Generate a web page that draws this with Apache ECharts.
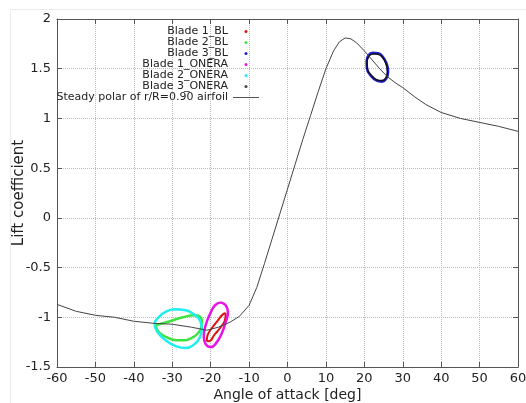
<!DOCTYPE html>
<html>
<head>
<meta charset="utf-8">
<script src="https://cdn.jsdelivr.net/npm/echarts@6/dist/echarts.min.js"></script>
<style>
html,body{margin:0;padding:0;background:#fff;}
#chart{width:526px;height:403px;}
</style>
</head>
<body>
<div id="chart"></div>
<script>
// Steady polar of r/R=0.90 airfoil
var polarAlpha = [-60,-55,-50,-45,-40,-35,-30,-25,-21,-18,-15,-12.5,-10,-8,-6,-4,-2,0,2,4,6,8,10,12,13.5,15,16.5,18,20,22,24,26,28,30,33,36,40,45,50,55,60];
var polarCl    = [-0.87,-0.94,-0.98,-1.00,-1.04,-1.06,-1.07,-1.10,-1.13,-1.10,-1.05,-0.99,-0.88,-0.70,-0.46,-0.21,0.04,0.29,0.54,0.79,1.03,1.27,1.50,1.68,1.77,1.81,1.80,1.76,1.68,1.59,1.50,1.42,1.36,1.31,1.22,1.14,1.06,1.00,0.96,0.92,0.87];

// Blade loops (angle of attack, lift coefficient)
var blade1BLAlpha = [-16.1,-16.3,-17.4,-18.9,-20.5,-21.0,-20.8,-19.7,-18.1,-16.8,-16.1];
var blade1BLCl    = [-0.96,-1.03,-1.10,-1.17,-1.24,-1.23,-1.18,-1.11,-1.03,-0.97,-0.96];

var blade2BLAlpha = [-34.3,-31.5,-27.2,-24.2,-22.9,-22.3,-22.4,-23.3,-24.6,-26.5,-28.9,-31.5,-33.5,-34.3];
var blade2BLCl    = [-1.08,-1.05,-1.00,-0.98,-0.99,-1.04,-1.10,-1.16,-1.20,-1.23,-1.23,-1.20,-1.15,-1.08];

var blade3BLAlpha = [22.2,23.6,24.9,25.8,26.2,25.7,24.6,23.2,21.7,20.7,20.6,21.2,22.2];
var blade3BLCl    = [1.66,1.655,1.615,1.55,1.47,1.40,1.37,1.38,1.43,1.50,1.58,1.64,1.66];

var blade1ONAlpha = [-17.4,-16.1,-15.5,-16.1,-17.1,-18.4,-20.0,-21.3,-21.8,-21.3,-20.2,-18.9,-17.4];
var blade1ONCl    = [-0.85,-0.88,-0.95,-1.05,-1.16,-1.25,-1.30,-1.27,-1.19,-1.08,-0.97,-0.88,-0.85];

var blade2ONAlpha = [-29.4,-26.5,-24.4,-22.8,-22.3,-22.8,-24.2,-26.5,-29.1,-31.7,-33.8,-34.6,-33.3,-31.5,-29.4];
var blade2ONCl    = [-0.92,-0.93,-0.97,-1.03,-1.11,-1.20,-1.27,-1.31,-1.29,-1.23,-1.15,-1.07,-0.99,-0.94,-0.92];

var blade3ONAlpha = [22.3,23.6,24.8,25.7,26.0,25.6,24.5,23.2,21.8,20.8,20.7,21.3,22.3];
var blade3ONCl    = [1.65,1.645,1.61,1.545,1.47,1.405,1.38,1.39,1.435,1.50,1.575,1.63,1.65];

var xTicks = [-60,-50,-40,-30,-20,-10,0,10,20,30,40,50,60];
var yTicks = [-1.5,-1,-0.5,0,0.5,1,1.5,2];

function pairs(a, b) { return a.map(function (v, i) { return [v, b[i]]; }); }

var FONT = 'DejaVu Sans';
var chart = echarts.init(document.getElementById('chart'), null, {renderer: 'canvas'});

function loop(name, a, c, color, width) {
  return {
    name: name, type: 'line', data: pairs(a, c), smooth: 0.5,
    showSymbol: false, symbol: 'circle', symbolSize: 2,
    itemStyle: {color: color},
    lineStyle: {color: color, width: width},
    animation: false, z: 3
  };
}

var frameColor = '#555';
var option = {
  animation: false,
  backgroundColor: '#fff',
  graphic: [{
    type: 'rect', silent: true, z: -10,
    shape: {x: 10.5, y: 9.5, width: 700, height: 700},
    style: {fill: 'none', stroke: '#ececec', lineWidth: 1}
  }],
  grid: {left: 57, right: 8, top: 19, bottom: 36, containLabel: false, outerBoundsMode: 'none'},
  legend: {
    orient: 'vertical', align: 'right', right: 267, top: 26, padding: 0,
    itemGap: 0, itemWidth: 26, itemHeight: 3,
    textStyle: {fontFamily: FONT, fontSize: 11, color: '#222'},
    data: [
      {name: 'Blade 1_BL', icon: 'circle'},
      {name: 'Blade 2_BL', icon: 'circle'},
      {name: 'Blade 3_BL', icon: 'circle'},
      {name: 'Blade 1_ONERA', icon: 'circle'},
      {name: 'Blade 2_ONERA', icon: 'circle'},
      {name: 'Blade 3_ONERA', icon: 'circle', itemStyle: {color: '#444'}},
      {name: 'Steady polar of r/R=0.90 airfoil', icon: 'path://M0,0H26V1H0Z', itemStyle: {color: '#555'}}
    ]
  },
  xAxis: [{
    type: 'value', min: xTicks[0], max: xTicks[xTicks.length - 1], interval: 10,
    name: 'Angle of attack [deg]', nameLocation: 'middle', nameGap: 21, nameMoveOverlap: false,
    nameTextStyle: {fontFamily: FONT, fontSize: 14, color: '#222'},
    axisLine: {show: true, onZero: false, lineStyle: {color: frameColor, width: 1}},
    axisTick: {show: true, inside: true, length: 5, lineStyle: {color: frameColor}},
    axisLabel: {fontFamily: FONT, fontSize: 13, color: '#222', margin: 5},
    splitLine: {show: true, lineStyle: {color: '#bbb', type: 'dotted', width: 1}}
  }, {
    type: 'value', position: 'top', min: xTicks[0], max: xTicks[xTicks.length - 1], interval: 10,
    axisLine: {show: true, onZero: false, lineStyle: {color: frameColor, width: 1}},
    axisTick: {show: true, inside: true, length: 5, lineStyle: {color: frameColor}},
    axisLabel: {show: false}, splitLine: {show: false}
  }],
  yAxis: [{
    type: 'value', min: yTicks[0], max: yTicks[yTicks.length - 1], interval: 0.5,
    name: 'Lift coefficient', nameLocation: 'middle', nameGap: 30, nameRotate: 90, nameMoveOverlap: false,
    nameTextStyle: {fontFamily: FONT, fontSize: 15, color: '#222'},
    axisLine: {show: true, onZero: false, lineStyle: {color: frameColor, width: 1}},
    axisTick: {show: true, inside: true, length: 5, lineStyle: {color: frameColor}},
    axisLabel: {fontFamily: FONT, fontSize: 13, color: '#222', margin: 6},
    splitLine: {show: true, lineStyle: {color: '#bbb', type: 'dotted', width: 1}}
  }, {
    type: 'value', position: 'right', min: yTicks[0], max: yTicks[yTicks.length - 1], interval: 0.5,
    axisLine: {show: true, onZero: false, lineStyle: {color: frameColor, width: 1}},
    axisTick: {show: true, inside: true, length: 5, lineStyle: {color: frameColor}},
    axisLabel: {show: false}, splitLine: {show: false}
  }],
  series: [
    loop('Blade 1_BL', blade1BLAlpha, blade1BLCl, '#e01010', 2),
    loop('Blade 2_BL', blade2BLAlpha, blade2BLCl, '#3ee23e', 2.5),
    loop('Blade 3_BL', blade3BLAlpha, blade3BLCl, '#2020d0', 2.5),
    loop('Blade 1_ONERA', blade1ONAlpha, blade1ONCl, '#e812e8', 2.5),
    loop('Blade 2_ONERA', blade2ONAlpha, blade2ONCl, '#20eeee', 2.5),
    loop('Blade 3_ONERA', blade3ONAlpha, blade3ONCl, '#101020', 1.6),
    {
      name: 'Steady polar of r/R=0.90 airfoil', type: 'line', data: pairs(polarAlpha, polarCl),
      showSymbol: false, symbol: 'none', smooth: false,
      itemStyle: {color: '#444'},
      lineStyle: {color: '#444', width: 1}, z: 4, animation: false
    }
  ]
};
chart.setOption(option);
</script>
</body>
</html>
